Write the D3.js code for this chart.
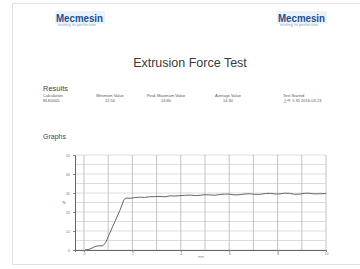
<!DOCTYPE html>
<html>
<head>
<meta charset="utf-8">
<script src="https://cdn.jsdelivr.net/npm/d3@7"></script>
<style>
  body { margin: 0; background: #fff; }
  text { font-family: "Liberation Sans", Arial, sans-serif; }
</style>
</head>
<body>
<svg id="chart" width="360" height="269"></svg>
<script>
// results block
var resultLabels = ["Minimum Value", "Peak Maximum Value", "Average Value"];
var resultValues = ["12.50", "14.80", "14.30"];
var resultCenters = [110, 166, 228];

// force curve, displacement (mm) vs force (N)
var distance = [0.04, 0.17, 0.33, 0.45, 0.54, 0.79, 0.9, 1.07, 1.28, 1.49, 1.65, 1.74, 1.9, 2.1, 2.3, 2.5, 2.7, 2.9, 3.1, 3.35, 3.55, 3.75, 3.97, 4.2, 4.4, 4.6, 4.8, 5.0, 5.2, 5.4, 5.6, 5.8, 6.0, 6.2, 6.45, 6.65, 6.86, 7.05, 7.27, 7.5, 7.7, 7.9, 8.1, 8.3, 8.5, 8.7, 8.9, 9.1, 9.3, 9.5, 9.75, 10];
var force = [0, 0.2, 1.0, 1.8, 2.1, 2.3, 4, 9, 15, 21, 26.5, 27.4, 27.2, 27.6, 27.8, 27.7, 28.0, 28.1, 28.2, 28.0, 28.5, 28.4, 28.6, 28.8, 28.9, 28.6, 28.8, 29.1, 29.0, 28.8, 29.2, 29.4, 29.4, 29.0, 29.1, 29.5, 29.6, 29.3, 29.3, 29.7, 29.8, 29.5, 29.5, 29.9, 29.8, 29.3, 29.4, 29.8, 29.9, 29.5, 29.6, 29.7];
var xTicks = [0, 2, 4, 6, 8, 10];
var yTicks = [0, 10, 20, 30, 40, 50];

var svg = d3.select("#chart");

// page outline
svg.append("rect")
    .attr("x", 12.5).attr("y", 3.5)
    .attr("width", 360).attr("height", 261)
    .attr("fill", "#fff")
    .attr("stroke", "#e2e2e2");

// logos
function logo(x) {
    var g = svg.append("g").attr("transform", "translate(" + x + ",0)");
    g.append("rect")
        .attr("x", -1).attr("y", 11).attr("width", 50).attr("height", 13)
        .attr("fill", "#eaf2fa");
    g.append("text")
        .attr("x", 0).attr("y", 21.5)
        .attr("font-size", 11).attr("font-weight", "bold")
        .attr("fill", "#1f4f8a")
        .attr("textLength", 47).attr("lengthAdjust", "spacingAndGlyphs")
        .text("Mecmesin");
    g.append("text")
        .attr("x", 2).attr("y", 26)
        .attr("font-size", 2.6).attr("fill", "#8aa2bd")
        .attr("textLength", 38).attr("lengthAdjust", "spacingAndGlyphs")
        .text("testing to perfection");
}
logo(56);
logo(278);

svg.append("text")
    .attr("x", 190).attr("y", 67)
    .attr("text-anchor", "middle")
    .attr("font-size", 12.5).attr("fill", "#3a3a3a")
    .text("Extrusion Force Test");

svg.append("text")
    .attr("x", 43).attr("y", 91)
    .attr("font-size", 7.5).attr("fill", "#444")
    .text("Results");
svg.append("text")
    .attr("x", 43).attr("y", 97)
    .attr("font-size", 4).attr("fill", "#555")
    .text("Calculation");
svg.append("text")
    .attr("x", 43).attr("y", 102)
    .attr("font-size", 4).attr("fill", "#555")
    .text("BLK0005");

resultLabels.forEach(function(d, i) {
    svg.append("text")
        .attr("x", resultCenters[i]).attr("y", 97)
        .attr("text-anchor", "middle")
        .attr("font-size", 4).attr("fill", "#555")
        .text(d);
    svg.append("text")
        .attr("x", resultCenters[i]).attr("y", 102)
        .attr("text-anchor", "middle")
        .attr("font-size", 4).attr("fill", "#555")
        .text(resultValues[i]);
});

svg.append("text")
    .attr("x", 283).attr("y", 97)
    .attr("font-size", 4).attr("fill", "#555")
    .text("Test Started");
svg.append("text")
    .attr("x", 283).attr("y", 102)
    .attr("font-size", 4).attr("fill", "#555")
    .text("上午 1:35  2016-03-23");

svg.append("text")
    .attr("x", 43).attr("y", 139)
    .attr("font-size", 7).attr("fill", "#444")
    .text("Graphs");

// graph
var x = d3.scaleLinear().domain([-0.37, 10]).range([75, 326]);
var y = d3.scaleLinear().domain([0, 50]).range([250, 155]);

var grid = svg.append("g");
grid.selectAll("line.h")
    .data(d3.range(0, 51, 5))
    .enter().append("line")
    .attr("x1", 75).attr("x2", 326)
    .attr("y1", function(d) { return y(d); })
    .attr("y2", function(d) { return y(d); })
    .attr("stroke", "#d4d4d4").attr("stroke-width", 0.8);
grid.selectAll("line.v")
    .data(d3.range(0, 11, 1))
    .enter().append("line")
    .attr("y1", 155).attr("y2", 250)
    .attr("x1", function(d) { return x(d); })
    .attr("x2", function(d) { return x(d); })
    .attr("stroke", "#bdbdbd").attr("stroke-width", 0.9);

var xAxis = svg.append("g")
    .attr("transform", "translate(0,250)")
    .call(d3.axisBottom(x).tickValues(xTicks).tickSize(2).tickPadding(1));
var yAxis = svg.append("g")
    .attr("transform", "translate(75,0)")
    .call(d3.axisLeft(y).tickValues(yTicks).tickSize(2).tickPadding(3));
[xAxis, yAxis].forEach(function(a) {
    a.select(".domain").attr("stroke", "#666").attr("stroke-width", 1);
    a.selectAll(".tick line").attr("stroke", "#888");
    a.selectAll("text").attr("font-size", 3.5).attr("fill", "#777")
        .attr("font-family", "Liberation Sans, Arial, sans-serif");
});

svg.append("text")
    .attr("x", 64).attr("y", 204)
    .attr("font-size", 4).attr("fill", "#666")
    .attr("text-anchor", "middle")
    .text("N");
svg.append("text")
    .attr("x", 201).attr("y", 258)
    .attr("font-size", 3.5).attr("fill", "#888")
    .attr("text-anchor", "middle")
    .text("mm");

var line = d3.line()
    .x(function(d, i) { return x(distance[i]); })
    .y(function(d) { return y(d); });

svg.append("path")
    .datum(force)
    .attr("d", line)
    .attr("fill", "none")
    .attr("stroke", "#666")
    .attr("stroke-width", 1);
</script>
</body>
</html>
